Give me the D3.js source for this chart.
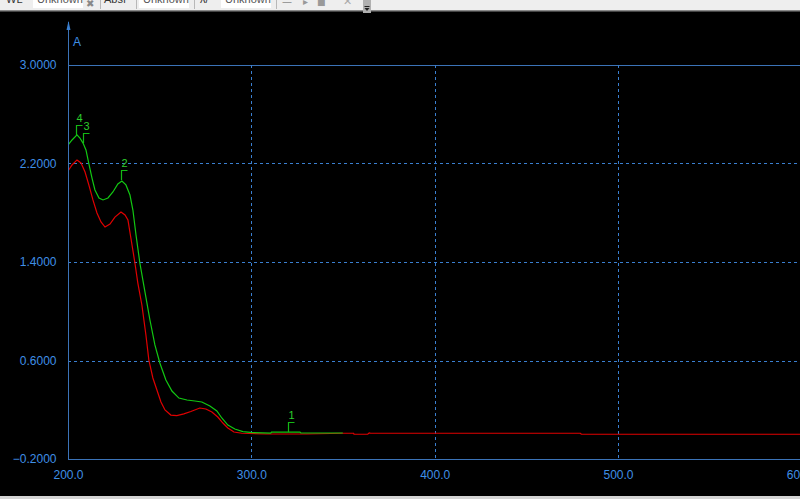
<!DOCTYPE html>
<html><head><meta charset="utf-8">
<script src="https://cdn.jsdelivr.net/npm/d3@7"></script>
<style>html,body{margin:0;padding:0;background:#000;overflow:hidden}</style>
</head><body>
<svg id="c" width="800" height="499"></svg>
<script>
// ---- data ----
const greenX = [200,202.2,204.9,206.5,208.2,209.8,211.4,213.1,214.7,216.9,219.1,221.8,224.5,227.2,229.4,231.6,233.8,235.4,237.1,239.2,242.0,244.7,247.4,250.1,253.4,256.7,260.5,264.9,269.2,273.0,277.4,281.2,283.9,287.2,291.0,295.4,300.8,310.6,311.0,326.5,327.0,349.9];
const greenY = [2.350,2.391,2.432,2.407,2.366,2.310,2.196,2.082,1.985,1.920,1.904,1.920,1.969,2.034,2.058,2.026,1.944,1.822,1.619,1.392,1.156,0.929,0.726,0.580,0.442,0.352,0.295,0.279,0.271,0.263,0.230,0.190,0.133,0.076,0.044,0.023,0.015,0.011,0.019,0.019,0.011,0.011];
const redX = [200,202.2,204.9,207.1,209.3,211.4,213.6,215.8,218.0,220.2,222.9,225.6,228.9,231.1,232.7,234.3,236.5,238.1,240.3,242.5,244.1,246.3,248.5,250.7,252.9,256.1,259.4,263.2,267.0,271.9,275.2,278.5,281.7,284.5,287.2,290.5,294.8,307.9,330,350,355.8,356.0,363.5,364.3,365.1,479.5,480.0,600];
const redY = [2.139,2.188,2.229,2.204,2.131,2.025,1.904,1.798,1.725,1.684,1.708,1.765,1.806,1.782,1.741,1.595,1.392,1.229,1.051,0.807,0.604,0.458,0.360,0.263,0.198,0.157,0.153,0.166,0.186,0.214,0.206,0.182,0.141,0.092,0.052,0.019,0.009,0.003,0.003,0.009,0.009,0.001,0.001,0.012,0.009,0.009,0.001,0.001];
const peakLabels = ["1","2","3","4"];
const peakX = [319.9,229.0,208.2,204.1];
const peakY = [0.019,2.066,2.366,2.432];
const xTicks = [200,300,400,500,600];
const yTicks = [-0.2,0.6,1.4,2.2,3.0];
const yLabel = "A";
const toolbarLabels = ["WL","Absf","λ/"];
const toolbarBoxes = ["Unknown","Unknown","Unknown"];

// ---- drawing ----
const svg = d3.select("#c");
const W = 800, H = 499;
svg.append("rect").attr("width",W).attr("height",H).attr("fill","#000");

const x = d3.scaleLinear().domain([200,600]).range([68,801.3]);
const y = d3.scaleLinear().domain([-0.2,3.0]).range([459,65]);
const axisCol = "#3b73b8", gridCol = "#3a7fd0", textCol = "#3f8fe6";

// grid
const g = svg.append("g");
g.selectAll(".hg").data(yTicks.filter(v=>v>-0.2)).join("line")
  .attr("x1",68).attr("x2",W).attr("y1",d=>Math.round(y(d))+0.5).attr("y2",d=>Math.round(y(d))+0.5)
  .attr("stroke",d=>d===3.0?axisCol:gridCol).attr("stroke-width",1)
  .attr("stroke-dasharray",d=>d===3.0?null:"3,3");
g.selectAll(".vg").data(xTicks.filter(v=>v>200)).join("line")
  .attr("x1",d=>Math.round(x(d))+0.5).attr("x2",d=>Math.round(x(d))+0.5).attr("y1",65).attr("y2",459)
  .attr("stroke",gridCol).attr("stroke-dasharray","3,3");

// axes via d3
const yAxis = d3.axisLeft(y).tickValues(yTicks).tickSize(0).tickPadding(12).tickFormat(d3.format(".4f"));
const ya = svg.append("g").attr("transform","translate(68.5,0)").call(yAxis);
ya.select(".domain").remove();
ya.selectAll("text").attr("fill",textCol).attr("font-family","Liberation Sans, Arial, sans-serif").attr("font-size",12);
const xAxis = d3.axisBottom(x).tickValues(xTicks).tickSize(0).tickPadding(11).tickFormat(d3.format(".1f"));
const xa = svg.append("g").attr("transform","translate(0,459.5)").call(xAxis);
xa.select(".domain").remove();
xa.selectAll("text").attr("fill",textCol).attr("font-family","Liberation Sans, Arial, sans-serif").attr("font-size",12);

// axis lines
svg.append("line").attr("x1",68.5).attr("x2",68.5).attr("y1",22).attr("y2",459.5).attr("stroke",axisCol);
svg.append("line").attr("x1",68).attr("x2",W).attr("y1",459.5).attr("y2",459.5).attr("stroke",axisCol);
svg.append("path").attr("d","M68.5,21 L70.5,30 L66.5,30 Z").attr("fill",gridCol);
svg.append("text").attr("x",73).attr("y",46).text(yLabel).attr("fill",textCol)
  .attr("font-family","Liberation Sans, Arial, sans-serif").attr("font-size",12);

// curves
const clip = svg.append("clipPath").attr("id","pc").append("rect").attr("x",69).attr("y",12).attr("width",W-69).attr("height",447);
const line = d3.line().x(d=>x(d[0])).y(d=>y(d[1]));
svg.append("path").datum(redX.map((v,i)=>[v,redY[i]])).attr("d",line)
  .attr("fill","none").attr("stroke","#e00000").attr("stroke-width",1.2).attr("clip-path","url(#pc)");
svg.append("path").datum(greenX.map((v,i)=>[v,greenY[i]])).attr("d",line)
  .attr("fill","none").attr("stroke","#12c812").attr("stroke-width",1.2).attr("clip-path","url(#pc)");

// peak markers
const pk = svg.append("g");
peakLabels.forEach((lab,i)=>{
  const px = Math.round(x(peakX[i]))+0.5, py = y(peakY[i]);
  const top = Math.round(py-10)+0.5;
  pk.append("path").attr("d",`M${px},${py} L${px},${top} L${px+6},${top}`)
    .attr("fill","none").attr("stroke","#14b814").attr("stroke-width",1.2);
  pk.append("text").attr("x",px+3).attr("y",top-4).attr("text-anchor","middle")
    .attr("fill","#2ccc2c").attr("font-family","Liberation Sans, Arial, sans-serif").attr("font-size",11).text(lab);
});

// toolbar strip
const tb = svg.append("g");
tb.append("rect").attr("x",0).attr("y",0).attr("width",W).attr("height",10).attr("fill","#eeeeee");
tb.append("rect").attr("x",0).attr("y",10).attr("width",W).attr("height",1.5).attr("fill","#8a8a8a");
const labX = [6,104,200], boxX = [33,139,221];
toolbarLabels.forEach((t,i)=>{
  tb.append("text").attr("x",labX[i]).attr("y",3).text(t).attr("fill","#333")
    .attr("font-family","Liberation Sans, Arial, sans-serif").attr("font-size",11);
});
toolbarBoxes.forEach((t,i)=>{
  tb.append("rect").attr("x",boxX[i]).attr("y",0).attr("width",50).attr("height",8).attr("fill","#fff");
  tb.append("text").attr("x",boxX[i]+4).attr("y",3).text(t).attr("fill","#555")
    .attr("font-family","Liberation Sans, Arial, sans-serif").attr("font-size",11);
});
[100,136,194,276].forEach(sx=>tb.append("line").attr("x1",sx+0.5).attr("x2",sx+0.5).attr("y1",0).attr("y2",9).attr("stroke","#b8b8b8"));
tb.append("text").attr("x",86).attr("y",7).text("✖").attr("fill","#888").attr("font-size",10).attr("font-family","DejaVu Sans");
tb.append("text").attr("x",282).attr("y",5).text("—").attr("fill","#888").attr("font-size",10).attr("font-family","DejaVu Sans");
tb.append("text").attr("x",303).attr("y",5).text("▸").attr("fill","#999").attr("font-size",10).attr("font-family","DejaVu Sans");
tb.append("text").attr("x",317).attr("y",5).text("■").attr("fill","#999").attr("font-size",9).attr("font-family","DejaVu Sans");
tb.append("text").attr("x",343).attr("y",5).text("✕").attr("fill","#aaa").attr("font-size",11).attr("font-family","DejaVu Sans");
tb.append("rect").attr("x",363).attr("y",0).attr("width",8).attr("height",13).attr("fill","#b0b0b0");
tb.append("path").attr("d","M364.5,8 L369.5,8 L367,11 Z").attr("fill","#222");
tb.append("line").attr("x1",364.5).attr("x2",369.5).attr("y1",6.5).attr("y2",6.5).attr("stroke","#222");

// bottom border
svg.append("rect").attr("x",0).attr("y",496).attr("width",W).attr("height",3).attr("fill","#d4d4d4");
</script>
</body></html>
